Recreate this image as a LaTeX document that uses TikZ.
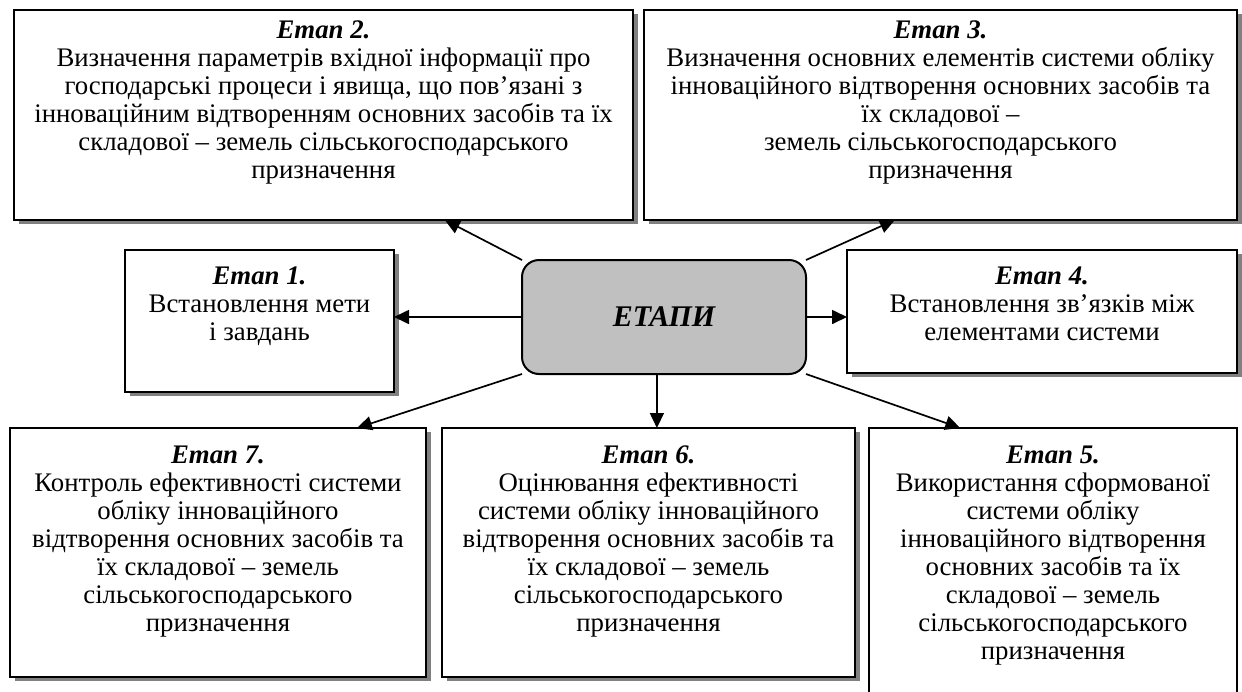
\documentclass[tikz,border=0pt]{standalone}
\usepackage{fontspec}
\setmainfont{Liberation Serif}
\usetikzlibrary{arrows.meta,shadows,calc}
\definecolor{centerfill}{HTML}{C0C0C0}
\definecolor{shadowgray}{HTML}{808080}
\newcommand\stagetext[4]{\parbox[c][#2][t]{#1}{\centering\vspace*{#3}\begin{tabular}{@{}c@{}}#4\end{tabular}}}
\newcommand\stagehead[1]{\textbf{\textit{#1}}}
\tikzset{
  stagebox/.style={draw, line width=1pt, fill=white, inner sep=0pt, outer sep=0pt,
    font=\fontsize{13.4}{14}\selectfont},
  shadowed/.style={drop shadow={shadow xshift=2.5pt, shadow yshift=-2pt, fill=shadowgray, opacity=1}},
  centerbox/.style={draw, line width=1pt, fill=centerfill, rounded corners=8.5pt,
    inner sep=0pt, outer sep=0pt, minimum width=142pt, minimum height=57pt,
    font=\fontsize{15}{16}\selectfont\bfseries\itshape},
  conn/.style={line width=0.85pt, -{Triangle[length=7.5pt,width=7pt]}}
}
\begin{document}
\begin{tikzpicture}[x=0.5pt,y=-0.5pt]
\useasboundingbox (0,0) rectangle (1242,691);
\clip (0,0) rectangle (1242,691);
\node[stagebox,shadowed] (b2) at (323.5,115) {\stagetext{309.5pt}{105pt}{4.5pt}{\stagehead{Етап 2.}\\
Визначення параметрів вхідної інформації про\\
господарські процеси і явища, що пов’язані з\\
інноваційним відтворенням основних засобів та їх\\
складової – земель сільськогосподарського\\
призначення}};
\node[stagebox,shadowed] (b3) at (940.5,115) {\stagetext{296.5pt}{105pt}{4.5pt}{\stagehead{Етап 3.}\\
Визначення основних елементів системи обліку\\
інноваційного відтворення основних засобів та\\
їх складової –\\
земель сільськогосподарського\\
призначення}};
\node[stagebox,shadowed] (b1) at (259.5,321) {\stagetext{134.5pt}{71pt}{7.5pt}{\stagehead{Етап 1.}\\
Встановлення мети\\
і завдань}};
\node[stagebox,shadowed] (b4) at (1042,311.5) {\stagetext{195pt}{61.5pt}{7.5pt}{\stagehead{Етап 4.}\\
Встановлення зв’язків між\\
елементами системи}};
\node[centerbox] (c) at (664,317) {ЕТАПИ};
\node[stagebox,shadowed] (b7) at (218,552.5) {\stagetext{208pt}{124.5pt}{8pt}{\stagehead{Етап 7.}\\
Контроль ефективності системи\\
обліку інноваційного\\
відтворення основних засобів та\\
їх складової – земель\\
сільськогосподарського\\
призначення}};
\node[stagebox,shadowed] (b6) at (648.5,552.5) {\stagetext{206.5pt}{124.5pt}{8pt}{\stagehead{Етап 6.}\\
Оцінювання ефективності\\
системи обліку інноваційного\\
відтворення основних засобів та\\
їх складової – земель\\
сільськогосподарського\\
призначення}};
\node[stagebox] (b5) at (1053,578) {\stagetext{184pt}{150pt}{8pt}{\stagehead{Етап 5.}\\
Використання сформованої\\
системи обліку\\
інноваційного відтворення\\
основних засобів та їх\\
складової – земель\\
сільськогосподарського\\
призначення}};
\draw[conn] (c.north west) -- ($(b2.south west)!0.696!(b2.south east)$);
\draw[conn] (c.north east) -- ($(b3.south west)!0.423!(b3.south east)$);
\draw[conn] (c.west) -- (c.west -| b1.east);
\draw[conn] (c.east) -- (c.east -| b4.west);
\draw[conn] (c.south west) -- ($(b7.north west)!0.834!(b7.north east)$);
\draw[conn] ($(c.south west)!0.475!(c.south east)$) coordinate (s6) -- (s6 |- b6.north);
\draw[conn] (c.south east) -- ($(b5.north west)!0.248!(b5.north east)$);
\end{tikzpicture}
\end{document}
